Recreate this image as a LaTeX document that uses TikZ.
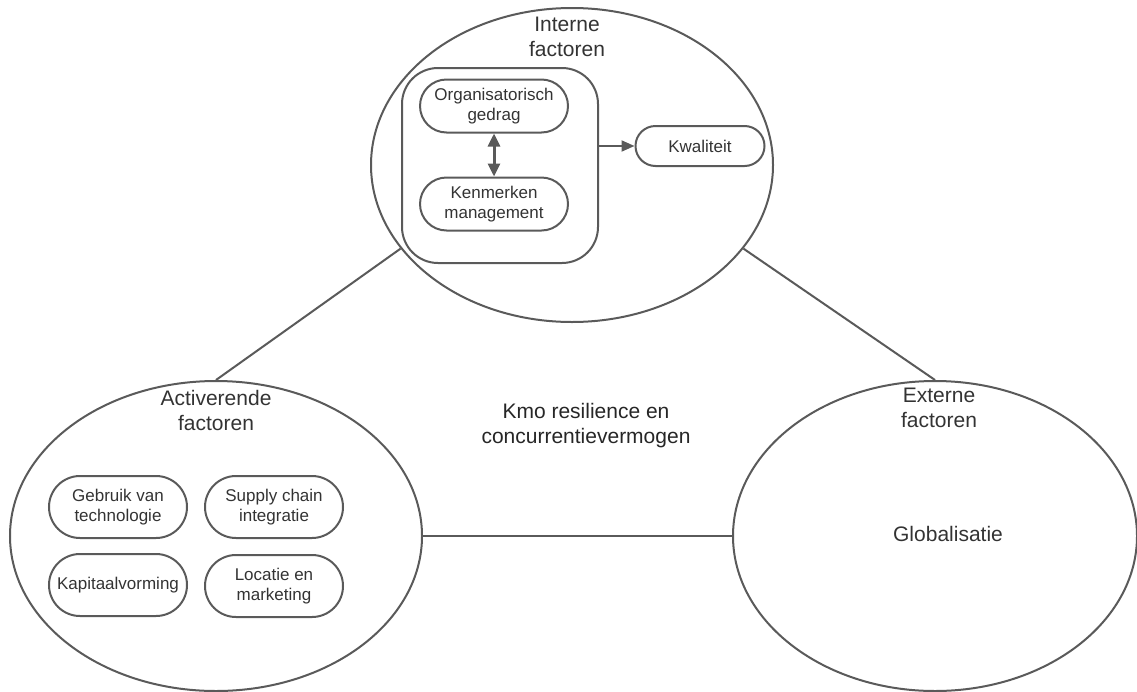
\documentclass[tikz,border=0pt]{standalone}
\usepackage{fontspec}
\setmainfont{Liberation Sans}
\usetikzlibrary{shapes.geometric,arrows.meta}
\definecolor{ln}{HTML}{5A5A5A}
\definecolor{tx}{HTML}{333333}
\tikzset{
  big/.style={ellipse, draw=ln, line width=2pt, inner sep=0pt},
  title/.style={text=tx, font=\fontsize{21}{25}\selectfont, align=center},
  pill/.style={draw=ln, line width=2pt, text=tx, align=center, inner sep=0pt,
    font=\fontsize{17}{20}\selectfont},
  conn/.style={draw=ln, line width=2pt},
}
\begin{document}
\begin{tikzpicture}[x=1pt,y=-1pt]
\useasboundingbox (0,0) rectangle (1137,691);
% big ellipses
\node[big, minimum width=402, minimum height=314] (top) at (572,165) {};
\node[big, minimum width=412, minimum height=310] (left) at (216,536) {};
\node[big, minimum width=404, minimum height=310] (right) at (935,536) {};
% titles
\node[title] (ttop) at (567,37) {Interne\\factoren};
\node[title] (tleft) at (216,410) {Activerende\\factoren};
\node[title] (tright) at (939,408) {Externe\\factoren};
\node[title, text=black!85] (center) at (586,426) {Kmo resilience en\\concurrentievermogen};
\node[title] (glob) at (948,534) {Globalisatie};
% inner group
\node[pill, minimum width=196, minimum height=195, rounded corners=36] (group) at (500,165.5) {};
\node[pill, minimum width=148, minimum height=53, rounded corners=26.5] (org) at (494,106) {Organisatorisch\\gedrag};
\node[pill, minimum width=148, minimum height=53, rounded corners=26.5] (ken) at (494,204) {Kenmerken\\management};
\node[pill, minimum width=129, minimum height=40, rounded corners=20] (kwal) at (700,146) {Kwaliteit};
% left boxes
\node[pill, minimum width=138, minimum height=62, rounded corners=31] (geb) at (118,507) {Gebruik van\\technologie};
\node[pill, minimum width=138, minimum height=62, rounded corners=31] (sup) at (274,507) {Supply chain\\integratie};
\node[pill, minimum width=138, minimum height=62, rounded corners=31] (kap) at (118,585) {Kapitaalvorming};
\node[pill, minimum width=138, minimum height=62, rounded corners=31] (loc) at (274,586) {Locatie en\\marketing};
% connectors
\draw[conn] (left.north) -- (top.206);
\draw[conn] (top.-26) -- (right.north);
\draw[conn] (left.east) -- (right.west);
\draw[conn, {Triangle[length=13pt,width=12pt]}-{Triangle[length=13pt,width=12pt]}, line width=3pt] (org.south) -- (ken.north);
\draw[conn, -{Triangle[length=13pt,width=11pt]}] (group.east |- kwal.west) -- (kwal.west);
\end{tikzpicture}
\end{document}
